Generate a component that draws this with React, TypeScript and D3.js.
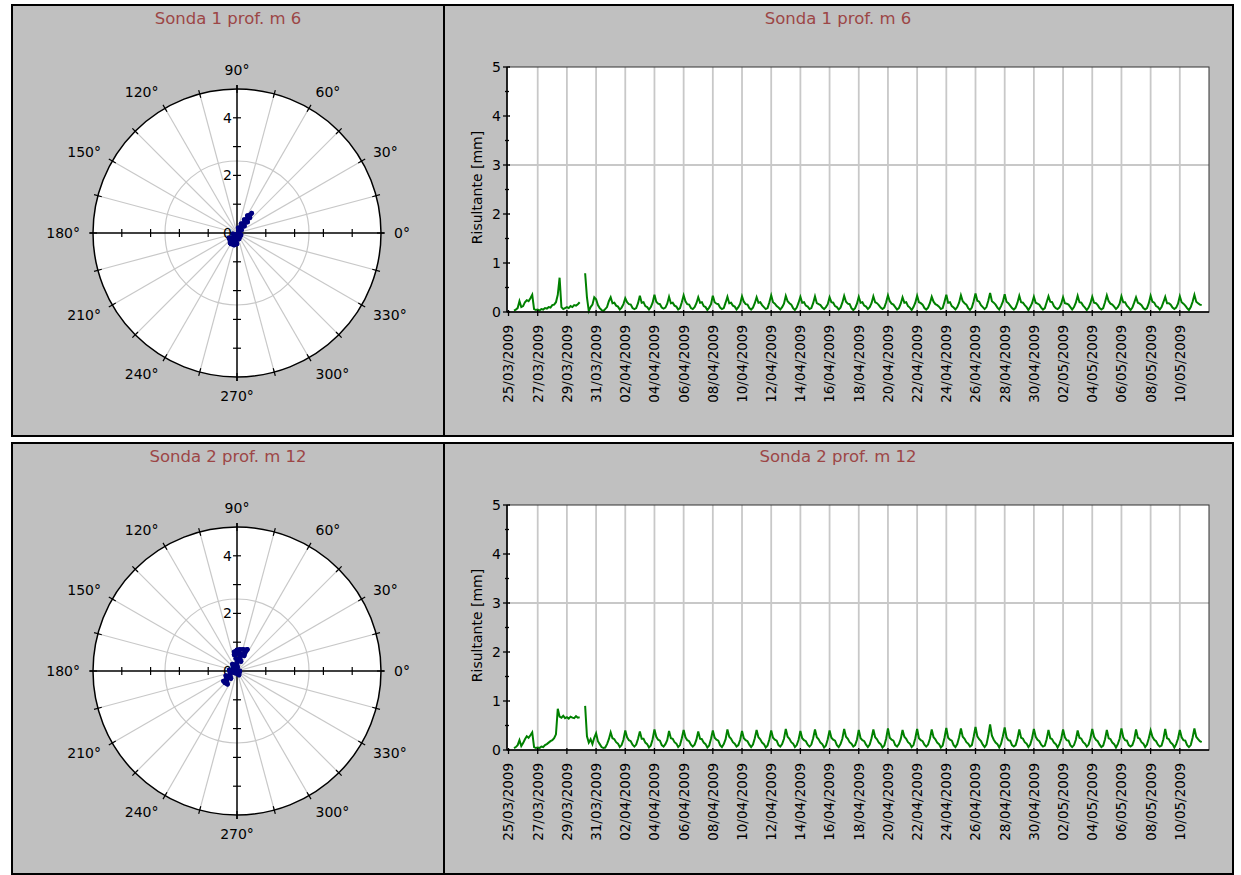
import React from 'react';
import * as d3 from 'd3';

// ---------- labels ----------
const TITLES = ['Sonda 1 prof. m 6', 'Sonda 2 prof. m 12'];
const Y_LABEL = 'Risultante [mm]';
const DATE_TICKS = [
  '25/03/2009', '27/03/2009', '29/03/2009', '31/03/2009', '02/04/2009', '04/04/2009',
  '06/04/2009', '08/04/2009', '10/04/2009', '12/04/2009', '14/04/2009', '16/04/2009',
  '18/04/2009', '20/04/2009', '22/04/2009', '24/04/2009', '26/04/2009', '28/04/2009',
  '30/04/2009', '02/05/2009', '04/05/2009', '06/05/2009', '08/05/2009', '10/05/2009',
];
const Y_TICKS = [0, 1, 2, 3, 4, 5];
const Y_MINOR = [0.5, 1.5, 2.5, 3.5, 4.5];
const Y_GRID = [3];
const ANGLE_LABELS = [0, 30, 60, 90, 120, 150, 180, 210, 240, 270, 300, 330];
const ANGLE_GRID = [15, 30, 45, 60, 75, 105, 120, 135, 150, 165, 195, 210, 225, 240, 255, 285, 300, 315, 330, 345];
const ANGLE_TICKS = d3.range(0, 360, 15);
const R_AXIS_TICKS = [-4, -3, -2, -1, 1, 2, 3, 4];
const R_LABELS = [0, 2, 4];
const R_GRID = [2.5];
const R_MAX = 5;

// ---------- time series (3-hour samples from 25/03/2009 00:00) ----------
const SERIES_START = '25/03/2009';
const SAMPLE_HOURS = 3;

const sonda1Resultante: (number | null)[] = [
  null, null, null, 0.03, 0.05, 0.08, 0.22, 0.10,
  0.12, 0.20, 0.24, 0.22, 0.28, 0.35, 0.06, 0.04,
  0.05, 0.03, 0.06, 0.05, 0.08, 0.07, 0.10, 0.09,
  0.14, 0.15, 0.20, 0.35, 0.70, 0.10, 0.06, 0.08,
  0.10, 0.08, 0.12, 0.10, 0.14, 0.13, 0.16, 0.20,
  null, null, 0.79, 0.30, 0.02, 0.10, 0.15, 0.30,
  0.26, 0.14, 0.08, 0.04, 0.02, 0.06, 0.10, 0.22,
  0.30, 0.18, 0.19, 0.13, 0.11, 0.05, 0.09, 0.16,
  0.28, 0.20, 0.16, 0.15, 0.08, 0.06, 0.08, 0.18,
  0.33, 0.19, 0.20, 0.12, 0.10, 0.05, 0.10, 0.19,
  0.35, 0.21, 0.17, 0.16, 0.09, 0.07, 0.09, 0.17,
  0.31, 0.18, 0.19, 0.13, 0.11, 0.05, 0.08, 0.20,
  0.34, 0.22, 0.16, 0.15, 0.08, 0.06, 0.10, 0.18,
  0.30, 0.19, 0.20, 0.12, 0.10, 0.04, 0.09, 0.16,
  0.33, 0.20, 0.17, 0.16, 0.09, 0.06, 0.08, 0.19,
  0.31, 0.18, 0.19, 0.13, 0.11, 0.05, 0.10, 0.17,
  0.32, 0.21, 0.16, 0.15, 0.08, 0.05, 0.09, 0.18,
  0.30, 0.19, 0.20, 0.14, 0.10, 0.06, 0.08, 0.20,
  0.34, 0.20, 0.17, 0.12, 0.09, 0.05, 0.10, 0.17,
  0.33, 0.22, 0.18, 0.15, 0.08, 0.04, 0.09, 0.19,
  0.31, 0.19, 0.20, 0.13, 0.11, 0.06, 0.08, 0.18,
  0.32, 0.18, 0.16, 0.14, 0.09, 0.06, 0.10, 0.16,
  0.30, 0.20, 0.19, 0.12, 0.10, 0.05, 0.09, 0.19,
  0.33, 0.21, 0.17, 0.16, 0.08, 0.04, 0.08, 0.17,
  0.31, 0.19, 0.20, 0.13, 0.11, 0.06, 0.10, 0.18,
  0.32, 0.20, 0.18, 0.14, 0.09, 0.06, 0.09, 0.20,
  0.34, 0.22, 0.17, 0.15, 0.10, 0.05, 0.08, 0.17,
  0.30, 0.19, 0.20, 0.12, 0.09, 0.04, 0.10, 0.19,
  0.33, 0.20, 0.18, 0.15, 0.08, 0.05, 0.09, 0.18,
  0.31, 0.21, 0.16, 0.14, 0.11, 0.06, 0.08, 0.21,
  0.35, 0.19, 0.20, 0.12, 0.09, 0.05, 0.10, 0.19,
  0.34, 0.22, 0.18, 0.15, 0.08, 0.04, 0.09, 0.22,
  0.38, 0.23, 0.21, 0.14, 0.10, 0.06, 0.10, 0.23,
  0.39, 0.22, 0.19, 0.15, 0.09, 0.05, 0.12, 0.21,
  0.36, 0.21, 0.18, 0.13, 0.08, 0.05, 0.09, 0.19,
  0.33, 0.20, 0.19, 0.14, 0.10, 0.04, 0.10, 0.18,
  0.31, 0.19, 0.17, 0.15, 0.09, 0.05, 0.08, 0.20,
  0.32, 0.21, 0.20, 0.12, 0.08, 0.06, 0.09, 0.17,
  0.30, 0.18, 0.17, 0.15, 0.10, 0.05, 0.10, 0.19,
  0.33, 0.20, 0.19, 0.13, 0.09, 0.04, 0.09, 0.18,
  0.31, 0.19, 0.18, 0.14, 0.08, 0.05, 0.08, 0.20,
  0.34, 0.22, 0.17, 0.15, 0.11, 0.06, 0.10, 0.17,
  0.32, 0.20, 0.20, 0.13, 0.09, 0.04, 0.09, 0.19,
  0.30, 0.19, 0.17, 0.14, 0.08, 0.05, 0.08, 0.18,
  0.33, 0.21, 0.19, 0.12, 0.10, 0.05, 0.10, 0.20,
  0.31, 0.18, 0.18, 0.15, 0.09, 0.06, 0.09, 0.17,
  0.32, 0.20, 0.17, 0.13, 0.08, 0.04, 0.10, 0.21,
  0.35, 0.21, 0.18, 0.15, 0.14,
];

const sonda2Resultante: (number | null)[] = [
  null, null, null, 0.04, 0.06, 0.10, 0.20, 0.08,
  0.14, 0.22, 0.28, 0.25, 0.30, 0.36, 0.06, 0.04,
  0.05, 0.04, 0.07, 0.06, 0.10, 0.12, 0.15, 0.18,
  0.20, 0.24, 0.32, 0.84, 0.68, 0.66, 0.70, 0.65,
  0.67, 0.64, 0.68, 0.66, 0.65, 0.69, 0.66, 0.67,
  null, null, 0.90, 0.28, 0.15, 0.22, 0.12, 0.25,
  0.34, 0.18, 0.12, 0.06, 0.04, 0.05, 0.12, 0.22,
  0.36, 0.24, 0.22, 0.16, 0.13, 0.06, 0.10, 0.21,
  0.40, 0.26, 0.20, 0.18, 0.11, 0.07, 0.11, 0.23,
  0.38, 0.23, 0.23, 0.15, 0.12, 0.05, 0.09, 0.22,
  0.42, 0.27, 0.21, 0.19, 0.10, 0.07, 0.12, 0.20,
  0.39, 0.24, 0.23, 0.16, 0.13, 0.06, 0.10, 0.24,
  0.41, 0.26, 0.20, 0.18, 0.11, 0.07, 0.11, 0.21,
  0.38, 0.23, 0.22, 0.15, 0.12, 0.05, 0.09, 0.23,
  0.40, 0.25, 0.21, 0.19, 0.10, 0.06, 0.12, 0.22,
  0.42, 0.27, 0.23, 0.16, 0.13, 0.07, 0.10, 0.21,
  0.39, 0.24, 0.20, 0.18, 0.11, 0.06, 0.11, 0.24,
  0.41, 0.26, 0.22, 0.15, 0.12, 0.05, 0.09, 0.22,
  0.40, 0.25, 0.21, 0.19, 0.10, 0.07, 0.12, 0.23,
  0.43, 0.27, 0.23, 0.16, 0.13, 0.06, 0.10, 0.21,
  0.39, 0.24, 0.20, 0.18, 0.11, 0.07, 0.11, 0.24,
  0.42, 0.26, 0.22, 0.15, 0.12, 0.05, 0.09, 0.22,
  0.40, 0.25, 0.21, 0.19, 0.10, 0.06, 0.12, 0.23,
  0.43, 0.27, 0.23, 0.16, 0.13, 0.07, 0.10, 0.21,
  0.41, 0.24, 0.20, 0.18, 0.11, 0.06, 0.11, 0.24,
  0.42, 0.26, 0.22, 0.15, 0.12, 0.05, 0.09, 0.23,
  0.44, 0.25, 0.21, 0.19, 0.10, 0.07, 0.12, 0.22,
  0.41, 0.27, 0.23, 0.16, 0.13, 0.06, 0.10, 0.24,
  0.43, 0.24, 0.20, 0.18, 0.11, 0.07, 0.11, 0.23,
  0.42, 0.26, 0.22, 0.15, 0.12, 0.05, 0.09, 0.25,
  0.45, 0.25, 0.21, 0.19, 0.10, 0.06, 0.12, 0.26,
  0.44, 0.27, 0.23, 0.16, 0.13, 0.07, 0.10, 0.27,
  0.47, 0.28, 0.22, 0.18, 0.11, 0.06, 0.11, 0.29,
  0.52, 0.29, 0.21, 0.15, 0.12, 0.05, 0.13, 0.28,
  0.46, 0.26, 0.20, 0.19, 0.10, 0.07, 0.10, 0.23,
  0.42, 0.25, 0.23, 0.16, 0.13, 0.06, 0.11, 0.24,
  0.43, 0.27, 0.21, 0.18, 0.11, 0.07, 0.09, 0.22,
  0.41, 0.24, 0.22, 0.15, 0.12, 0.05, 0.12, 0.23,
  0.42, 0.26, 0.20, 0.19, 0.10, 0.06, 0.10, 0.21,
  0.40, 0.25, 0.23, 0.16, 0.13, 0.07, 0.11, 0.24,
  0.43, 0.27, 0.21, 0.18, 0.11, 0.06, 0.09, 0.22,
  0.41, 0.24, 0.22, 0.15, 0.12, 0.05, 0.12, 0.23,
  0.44, 0.26, 0.20, 0.19, 0.10, 0.07, 0.10, 0.21,
  0.42, 0.25, 0.23, 0.16, 0.13, 0.06, 0.11, 0.24,
  0.40, 0.27, 0.21, 0.18, 0.11, 0.07, 0.09, 0.22,
  0.43, 0.24, 0.22, 0.15, 0.12, 0.05, 0.12, 0.23,
  0.41, 0.26, 0.20, 0.19, 0.10, 0.06, 0.10, 0.25,
  0.44, 0.27, 0.22, 0.18, 0.16,
];

// ---------- polar trajectory (east / north components, mm) ----------
const sonda1East = [
  -0.24, -0.21, -0.10, 0.00, -0.03, -0.14, -0.24, -0.28, -0.17, -0.10, 0.07, 0.14, -0.07, -0.14, 0.03,
  0.05, 0.16, 0.10, 0.04, 0.15, 0.26, 0.20, 0.14, 0.26, 0.37, 0.31, 0.25, 0.36, 0.45, 0.41, 0.36, 0.46, 0.51,
];
const sonda1North = [
  -0.35, -0.38, -0.42, -0.38, -0.28, -0.31, -0.28, -0.17, -0.17, -0.21, -0.21, -0.07, -0.10, -0.03, -0.07,
  0.07, 0.10, 0.14, 0.18, 0.21, 0.24, 0.28, 0.32, 0.35, 0.38, 0.42, 0.46, 0.49, 0.53, 0.56, 0.60, 0.63, 0.69,
];
const sonda2East = [
  -0.47, -0.42, -0.33, -0.36, -0.39, -0.30, -0.21, -0.24, -0.27, -0.18, -0.09, 0.07, 0.10, -0.13, -0.16, -0.07,
  0.02, -0.01, 0.05, -0.04, 0.14, 0.10, 0.16, 0.25, 0.28, 0.36, 0.31, 0.21, 0.10, 0.00, -0.10, -0.03, -0.10, 0.07,
];
const sonda2North = [
  -0.35, -0.41, -0.46, -0.31, -0.16, -0.21, -0.26, -0.11, 0.04, -0.01, -0.06, -0.14, 0.00, 0.09, 0.24, 0.18,
  0.13, 0.28, 0.38, 0.43, 0.33, 0.48, 0.58, 0.53, 0.64, 0.75, 0.73, 0.75, 0.75, 0.73, 0.66, 0.63, 0.56, 0.63,
];

// ---------- styling ----------
const FONT = 'DejaVu Sans, Verdana, sans-serif';
const PANEL_BG = '#c0c0c0';
const TITLE_COLOR = '#9c4646';
const GRID = '#c8c8c8';
const LINE_COLOR = '#008000';
const DOT_COLOR = '#000080';

const parseDay = d3.utcParse('%d/%m/%Y');
const X_DOMAIN = [new Date(Date.UTC(2009, 2, 24, 21, 30)), new Date(Date.UTC(2009, 4, 12))];

function PolarPanel({ oy, title, east, north }: { oy: number; title: string; east: number[]; north: number[] }) {
  const cx = 237;
  const cy = 233 + oy;
  const r = d3.scaleLinear().domain([0, R_MAX]).range([0, 144]);
  const R = r(R_MAX);
  const rad = (a: number) => (a * Math.PI) / 180;
  const pts = east.map((e, i) => [cx + r(e), cy - r(north[i])] as [number, number]);
  const path = d3.line()(pts) || '';
  return (
    <g>
      <text x={228} y={23.5 + oy} textAnchor="middle" fontSize={16.5} fill={TITLE_COLOR} fontFamily={FONT}>{title}</text>
      <circle cx={cx} cy={cy} r={R} fill="#fff" />
      {R_GRID.map((g) => (
        <circle key={g} cx={cx} cy={cy} r={r(g)} fill="none" stroke={GRID} strokeWidth={1.2} />
      ))}
      {ANGLE_GRID.map((a) => (
        <line key={a} x1={cx} y1={cy} x2={cx + R * Math.cos(rad(a))} y2={cy - R * Math.sin(rad(a))} stroke={GRID} strokeWidth={1.2} />
      ))}
      <circle cx={cx} cy={cy} r={R} fill="none" stroke="#000" strokeWidth={1.5} />
      {ANGLE_TICKS.map((a) => (
        <line key={a} x1={cx + (R - 4) * Math.cos(rad(a))} y1={cy - (R - 4) * Math.sin(rad(a))}
          x2={cx + (R + 4) * Math.cos(rad(a))} y2={cy - (R + 4) * Math.sin(rad(a))} stroke="#000" strokeWidth={1.2} />
      ))}
      <line x1={cx - R - 3} y1={cy} x2={cx + R + 3} y2={cy} stroke="#000" strokeWidth={1.5} />
      <line x1={cx} y1={cy - R - 4} x2={cx} y2={cy + R + 4} stroke="#000" strokeWidth={1.5} />
      {R_AXIS_TICKS.map((v) => (
        <g key={v}>
          <line x1={cx + r(v)} y1={cy - 4} x2={cx + r(v)} y2={cy + 4} stroke="#000" strokeWidth={1.2} />
          <line x1={cx - 4} y1={cy - r(v)} x2={cx + 4} y2={cy - r(v)} stroke="#000" strokeWidth={1.2} />
        </g>
      ))}
      {R_LABELS.map((v) => (
        <text key={v} x={cx - 5} y={cy - r(v)} dy="0.36em" textAnchor="end" fontSize={14} fontFamily={FONT} fill="#000">{v}</text>
      ))}
      {ANGLE_LABELS.map((a) => {
        const c = Math.cos(rad(a));
        const s = Math.sin(rad(a));
        const lx = cx + (R + 13) * c;
        const ly = cy - (R + 13) * s - 6 * s;
        const anchor = c > 0.1 ? 'start' : c < -0.1 ? 'end' : 'middle';
        return (
          <text key={a} x={lx} y={ly} dy="0.36em" textAnchor={anchor} fontSize={14} fontFamily={FONT} fill="#000">{a}°</text>
        );
      })}
      <path d={path} fill="none" stroke={DOT_COLOR} strokeWidth={4.5} strokeLinejoin="round" strokeLinecap="round" />
      {pts.map(([px, py], i) => (
        <circle key={i} cx={px} cy={py} r={2.4} fill={DOT_COLOR} />
      ))}
    </g>
  );
}

function TimePanel({ oy, title, values }: { oy: number; title: string; values: (number | null)[] }) {
  const left = 507, right = 1209, top = 67 + oy, bottom = 312 + oy;
  const x = d3.scaleUtc().domain(X_DOMAIN).range([left, right]);
  const y = d3.scaleLinear().domain([0, 5]).range([bottom, top]);
  const start = (parseDay(SERIES_START) as Date).getTime();
  const pts = values.map((v, i) => ({ t: new Date(start + i * SAMPLE_HOURS * 3600000), v }));
  const line = d3.line<{ t: Date; v: number | null }>()
    .defined((d) => d.v != null)
    .x((d) => x(d.t))
    .y((d) => y(d.v as number));
  const ticks = DATE_TICKS.map((s) => ({ s, d: parseDay(s) as Date }));
  return (
    <g fontFamily={FONT}>
      <text x={838} y={23.5 + oy} textAnchor="middle" fontSize={16.5} fill={TITLE_COLOR}>{title}</text>
      <rect x={left} y={top} width={right - left} height={bottom - top} fill="#fff" />
      {ticks.map(({ s, d }) => (x(d) > left + 2 ? (
        <line key={s} x1={x(d)} y1={top} x2={x(d)} y2={bottom} stroke={GRID} strokeWidth={1.8} />
      ) : null))}
      {Y_GRID.map((g) => (
        <line key={g} x1={left} y1={y(g)} x2={right} y2={y(g)} stroke={GRID} strokeWidth={1.8} />
      ))}
      <path d={line(pts) || ''} fill="none" stroke={LINE_COLOR} strokeWidth={2} strokeLinejoin="miter" />
      <rect x={left} y={top} width={right - left} height={bottom - top} fill="none" stroke="#333" strokeWidth={1} />
      <line x1={left} y1={top} x2={left} y2={bottom} stroke="#000" strokeWidth={1.5} />
      <line x1={left} y1={bottom} x2={right} y2={bottom} stroke="#000" strokeWidth={1.5} />
      {Y_TICKS.map((v) => (
        <g key={v}>
          <line x1={left - 4} y1={y(v)} x2={left + 3} y2={y(v)} stroke="#000" strokeWidth={1.3} />
          <text x={left - 6} y={y(v)} dy="0.36em" textAnchor="end" fontSize={14} fill="#000">{v}</text>
        </g>
      ))}
      {Y_MINOR.map((v) => (
        <line key={v} x1={left - 2} y1={y(v)} x2={left + 2} y2={y(v)} stroke="#000" strokeWidth={1.3} />
      ))}
      {ticks.map(({ s, d }) => (
        <g key={s}>
          <line x1={x(d)} y1={bottom - 2} x2={x(d)} y2={bottom + 4} stroke="#000" strokeWidth={1.3} />
          <text transform={`translate(${x(d)},${bottom + 13}) rotate(-90)`} dy="0.36em" textAnchor="end" fontSize={13.5} fill="#000">{s}</text>
        </g>
      ))}
      <text transform={`translate(477,${(top + bottom) / 2 - 2}) rotate(-90)`} dy="0.36em" textAnchor="middle" fontSize={14} fill="#000">{Y_LABEL}</text>
    </g>
  );
}

export default function App() {
  const offsets = [0, 438];
  const polar = [
    { east: sonda1East, north: sonda1North },
    { east: sonda2East, north: sonda2North },
  ];
  const series = [sonda1Resultante, sonda2Resultante];
  return (
    <svg width={1241} height={875} style={{ position: 'absolute', left: 0, top: 0, background: '#fff' }}>
      {offsets.map((oy, i) => (
        <g key={i}>
          <rect x={12} y={5 + oy} width={432} height={431} fill={PANEL_BG} stroke="#000" strokeWidth={2} />
          <rect x={444} y={5 + oy} width={789} height={431} fill={PANEL_BG} stroke="#000" strokeWidth={2} />
          <PolarPanel oy={oy} title={TITLES[i]} east={polar[i].east} north={polar[i].north} />
          <TimePanel oy={oy} title={TITLES[i]} values={series[i]} />
        </g>
      ))}
    </svg>
  );
}
